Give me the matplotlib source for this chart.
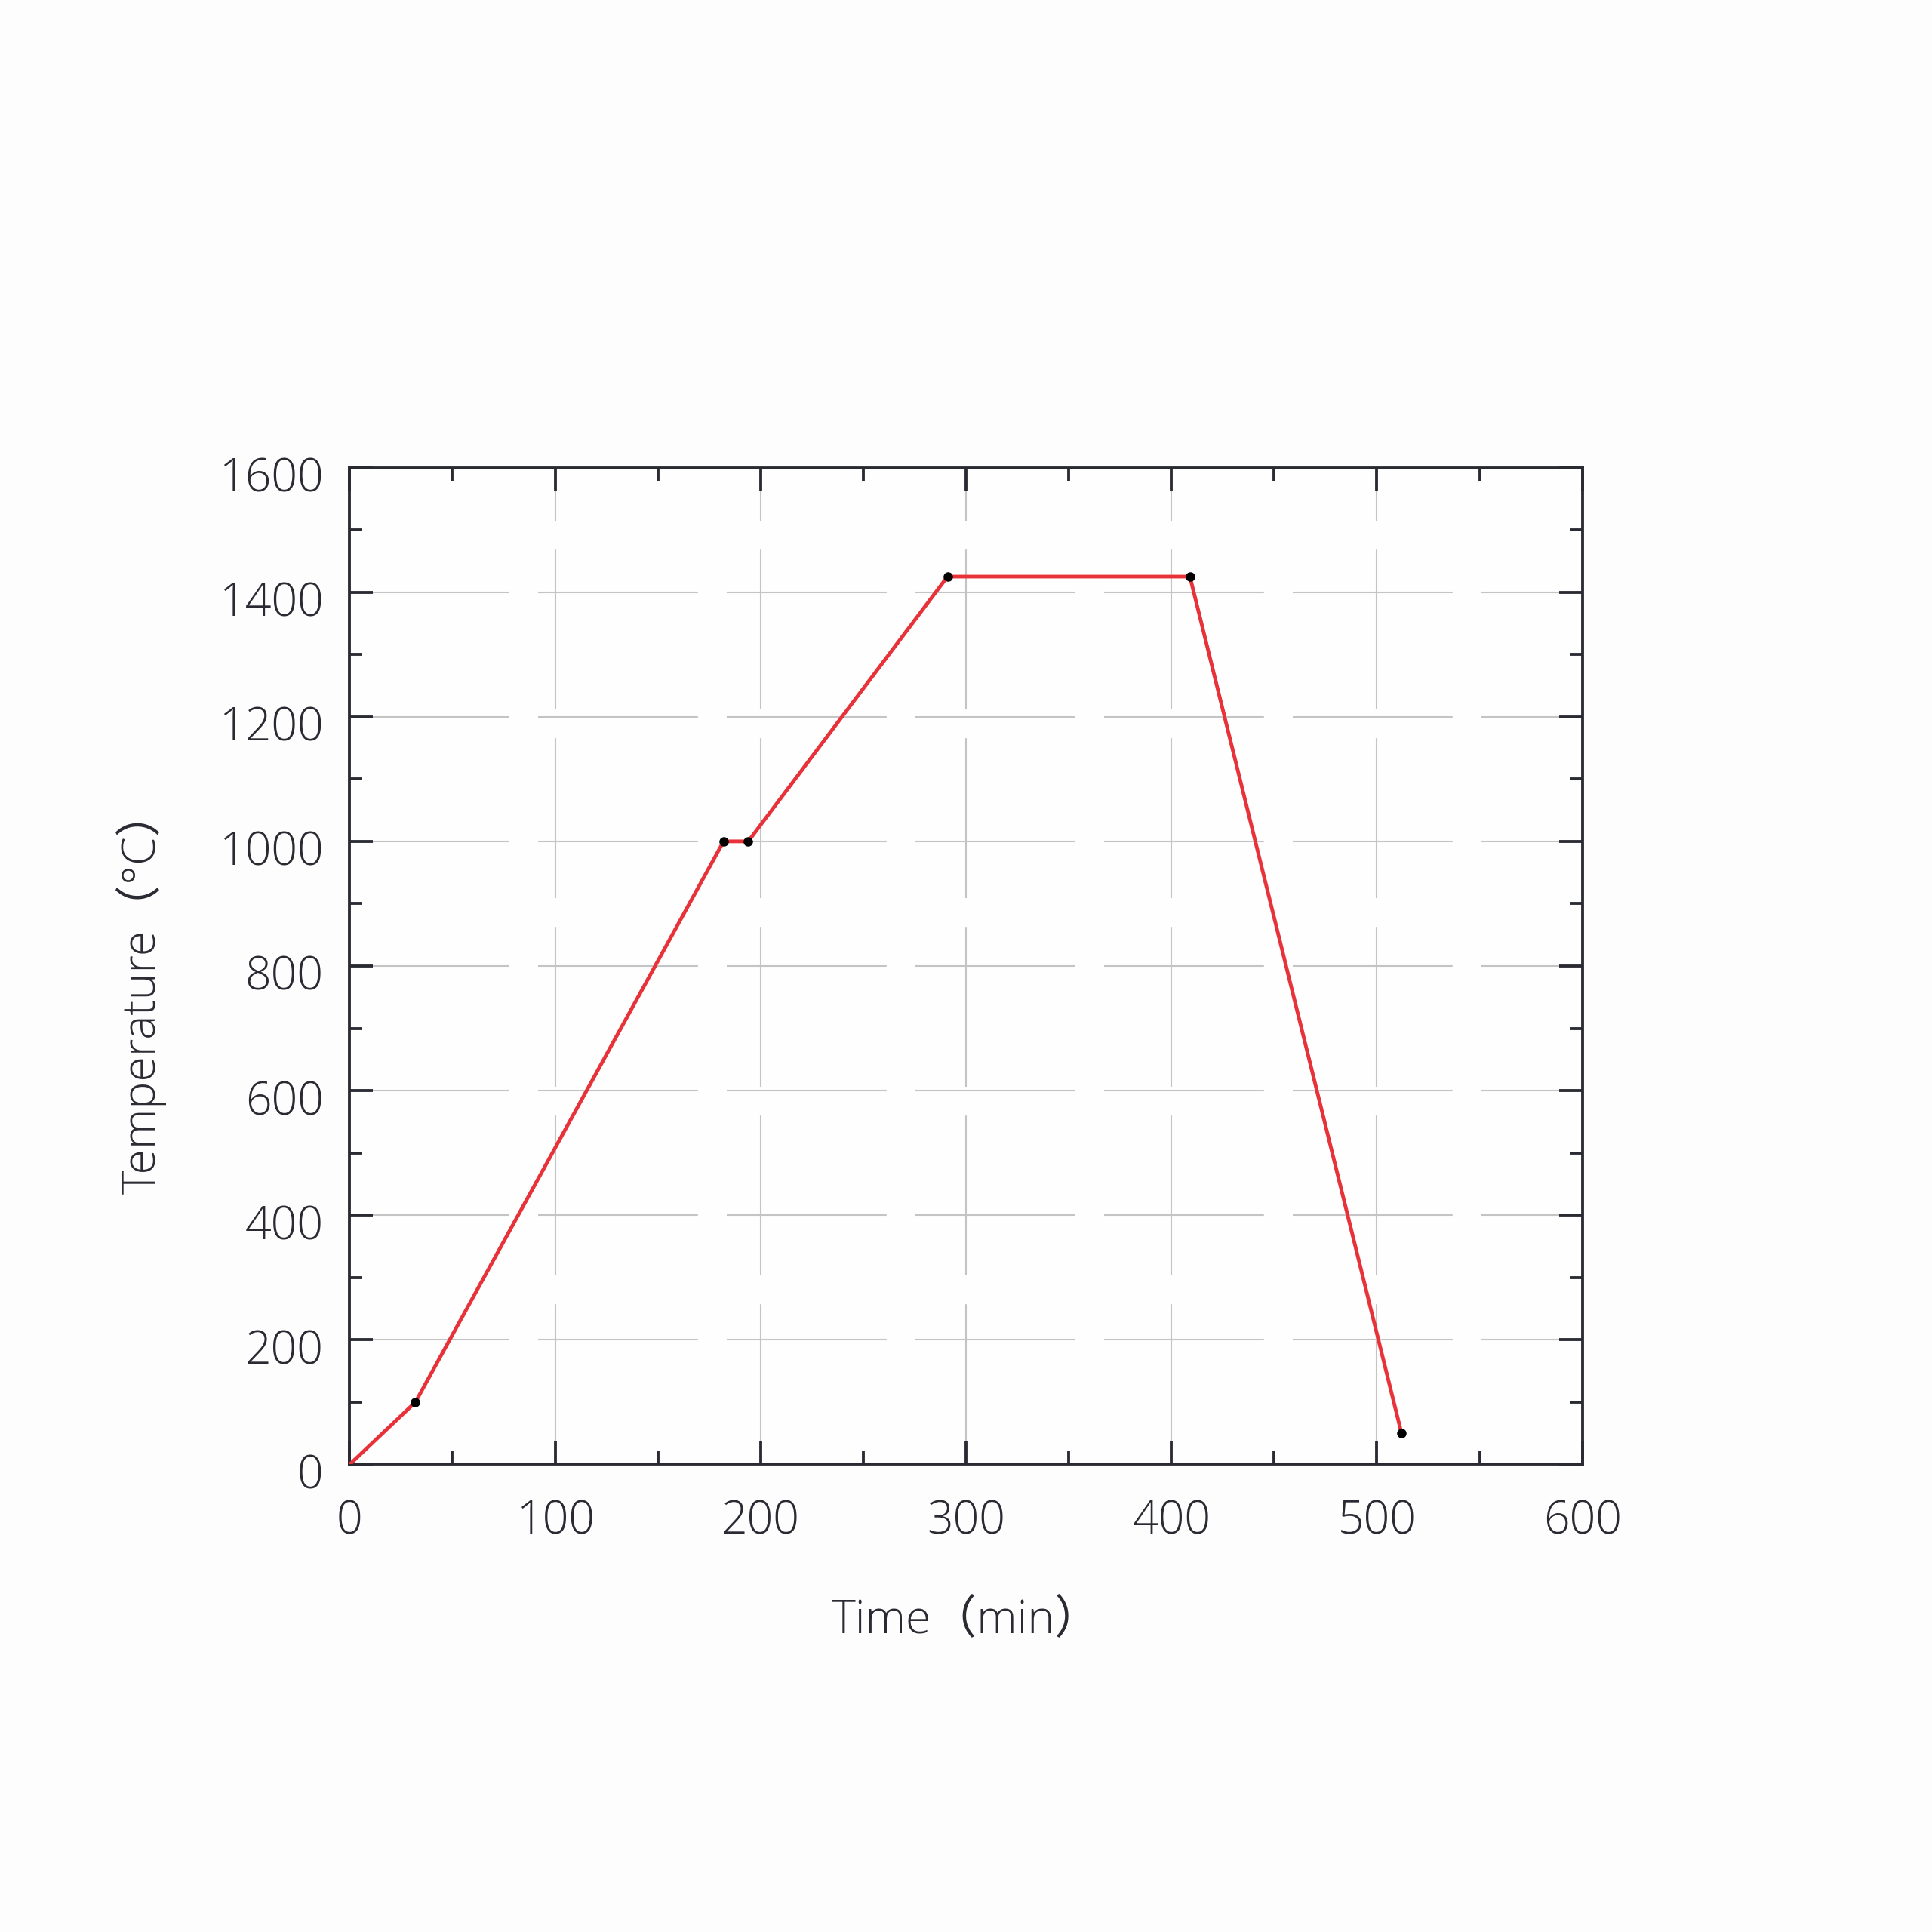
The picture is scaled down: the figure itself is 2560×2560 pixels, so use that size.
"""
Firing schedule: temperature against time
"""

import matplotlib.pyplot as plt
import matplotlib.transforms as mtrans
from matplotlib.ticker import MultipleLocator


# Settings
plt.rcParams['font.family'] = ['Open Sans', 'Noto Sans CJK SC', 'DejaVu Sans']
plt.rcParams['font.weight'] = 'light'
plt.rcParams['axes.labelweight'] = 'light'
plt.rcParams['lines.scale_dashes'] = False
figsize = (10.24, 10.24)
dpi = 250

# Data
time_min = [0, 32, 182, 194, 291, 409, 512]
temp_c = [0, 100, 1000, 1000, 1425, 1425, 50]

x_ticks = [0, 100, 200, 300, 400, 500, 600]
y_ticks = [0, 200, 400, 600, 800, 1000, 1200, 1400, 1600]

dark = '#2a2a33'
grid_col = '#c4c4c4'


def graph_schedule():
    """
    Graph of the temperature schedule
    """
    fig = plt.figure(figsize = figsize, dpi = dpi, facecolor = '#fdfdfd')
    ax = fig.add_axes([0.181, 0.242, 0.638, 0.516])
    ax.set_facecolor('#fefefe')

    ax.plot(time_min, temp_c, color = '#e8323a', linewidth = 1.4, zorder = 3)
    ax.plot(time_min[1:], temp_c[1:], 'o', color = 'black',
            markersize = 2.6, zorder = 4)

    ax.set_xlim(0, 600)
    ax.set_ylim(0, 1600)
    ax.set_xticks(x_ticks)
    ax.set_yticks(y_ticks)
    ax.xaxis.set_minor_locator(MultipleLocator(50))
    ax.yaxis.set_minor_locator(MultipleLocator(100))

    ax.grid(True, which = 'major', color = grid_col, linewidth = 0.6,
            linestyle = (0, (61, 11)))

    ax.tick_params(which = 'both', direction = 'in', top = True, right = True,
                   color = dark, width = 1.1, labelsize = 17.5,
                   labelcolor = dark)
    ax.tick_params(which = 'major', length = 9)
    ax.tick_params(axis = 'x', which = 'major', pad = 13)
    ax.tick_params(axis = 'y', which = 'major', pad = 10)
    ax.tick_params(which = 'minor', length = 5)

    # y labels sit slightly low in the original
    shift = mtrans.ScaledTranslation(0, -2.5 / 72, fig.dpi_scale_trans)
    for lab in ax.get_yticklabels():
        lab.set_transform(lab.get_transform() + shift)

    for sp in ax.spines.values():
        sp.set_color(dark)
        sp.set_linewidth(1.1)

    ax.set_xlabel('Time（min）', fontsize = 17.5, color = dark,
                  fontweight = 'light', labelpad = 20)
    ax.set_ylabel('Temperature（°C）', fontsize = 17.5, color = dark,
                  fontweight = 'light', labelpad = 20)
    ax.yaxis.label.set_y(0.474)

    plt.savefig('out.png', dpi = dpi, facecolor = fig.get_facecolor())
    return


#====================
if __name__ == '__main__':
    graph_schedule()
